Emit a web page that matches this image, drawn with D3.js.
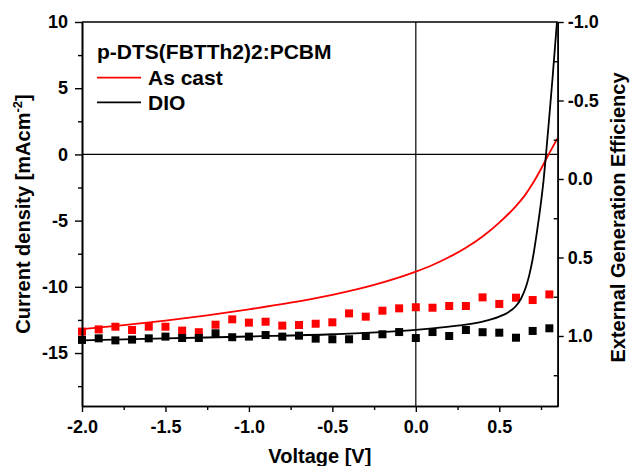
<!DOCTYPE html>
<html><head><meta charset="utf-8">
<script src="https://cdn.jsdelivr.net/npm/d3@7/dist/d3.min.js"></script>
<style>
body{margin:0;background:#fff;}
text{font-family:"Liberation Sans",Arial,Helvetica,sans-serif;font-weight:bold;fill:#000;}
</style></head>
<body><svg id="c" width="632" height="466"></svg>
<script>
// J-V curves
const asCastV = [-2.0,-1.75,-1.5,-1.25,-1.0,-0.75,-0.5,-0.25,0.0,0.1,0.2,0.3,0.4,0.5,0.6,0.65,0.7,0.75,0.8,0.848];
const asCastJ = [-13.2,-12.9,-12.55,-12.15,-11.7,-11.2,-10.6,-9.85,-8.85,-8.35,-7.75,-7.05,-6.2,-5.15,-3.9,-3.15,-2.2,-1.1,0.1,1.2];
const dioV = [-2.0,-1.5,-1.0,-0.5,0.0,0.2,0.3,0.4,0.5,0.55,0.6,0.63,0.66,0.68,0.70,0.725,0.75,0.765,0.78,0.80,0.82,0.848];
const dioJ = [-14.05,-13.9,-13.75,-13.58,-13.25,-13.0,-12.85,-12.62,-12.25,-11.95,-11.45,-10.9,-10.0,-9.1,-7.9,-5.9,-3.6,-2.0,0.0,2.9,5.9,10.4];
// External generation efficiency (right axis)
const egeV = [-2.0,-1.9,-1.8,-1.7,-1.6,-1.5,-1.4,-1.3,-1.2,-1.1,-1.0,-0.9,-0.8,-0.7,-0.6,-0.5,-0.4,-0.3,-0.2,-0.1,0.0,0.1,0.2,0.3,0.4,0.5,0.6,0.7,0.8];
const egeAsCast = [0.972,0.958,0.941,0.962,0.941,0.941,0.966,0.976,0.928,0.894,0.915,0.909,0.934,0.930,0.922,0.913,0.856,0.877,0.839,0.824,0.817,0.820,0.809,0.809,0.754,0.796,0.756,0.771,0.735];
const egeDIO = [1.025,1.015,1.028,1.023,1.015,1.004,1.013,1.013,0.983,1.008,1.004,0.994,1.004,0.998,1.017,1.021,1.021,1.0,0.989,0.975,1.013,0.975,1.0,0.962,0.976,0.979,1.011,0.968,0.951];
// ticks
const xTicks = [-2.0,-1.5,-1.0,-0.5,0.0,0.5];
const xMinor = [-1.75,-1.25,-0.75,-0.25,0.25,0.75];
const yLTicks = [10,5,0,-5,-10,-15];
const yLMinor = [7.5,2.5,-2.5,-7.5,-12.5,-17.5];
const yRTicks = [-1.0,-0.5,0.0,0.5,1.0];
const yRMinor = [-0.75,-0.25,0.25,0.75,1.25];

const L=82,R=557.7,T=22,B=406;
const svg=d3.select("#c");
const x=d3.scaleLinear([-2,0.85],[L,R]);
const yL=d3.scaleLinear([-19,10],[B,T]);
const yR=d3.scaleLinear([-1.0,1.446],[T,B]);

svg.append("defs").append("clipPath").attr("id","clip")
  .append("rect").attr("x",L).attr("y",T).attr("width",R-L).attr("height",B-T);

// zero lines
svg.append("line").attr("x1",L).attr("x2",R).attr("y1",yL(0)).attr("y2",yL(0)).attr("stroke","#000").attr("stroke-width",1.2);
svg.append("line").attr("x1",x(0)).attr("x2",x(0)).attr("y1",T).attr("y2",B).attr("stroke","#000").attr("stroke-width",1.2);

// squares
const sq=8;
function squares(vals,color){
  svg.append("g").selectAll("rect").data(egeV.map((v,i)=>[v,vals[i]])).join("rect")
    .attr("x",d=>x(d[0])-sq/2).attr("y",d=>yR(d[1])-sq/2)
    .attr("width",sq).attr("height",sq).attr("fill",color);
}
squares(egeAsCast,"#ff0000");
squares(egeDIO,"#000");

// curves
const line=d3.line().x(d=>x(d[0])).y(d=>yL(d[1])).curve(d3.curveMonotoneX);
const g=svg.append("g").attr("clip-path","url(#clip)");
g.append("path").attr("d",line(asCastV.map((v,i)=>[v,asCastJ[i]]))).attr("fill","none").attr("stroke","#ff0000").attr("stroke-width",1.8);
g.append("path").attr("d",line(dioV.map((v,i)=>[v,dioJ[i]]))).attr("fill","none").attr("stroke","#000").attr("stroke-width",1.8);

// axes
function styleAxis(sel){
  sel.select(".domain").attr("stroke-width",1.6);
  sel.selectAll(".tick line").attr("stroke-width",1.4);
  sel.selectAll("text").attr("font-size",18).attr("font-family",'"Liberation Sans",Arial,sans-serif').attr("font-weight","bold").attr("fill","#000");
}
const ax=svg.append("g").attr("transform",`translate(0,${B})`)
  .call(d3.axisBottom(x).tickValues(xTicks).tickFormat(v=>v.toFixed(1)).tickSize(6).tickPadding(8).tickSizeOuter(0));
styleAxis(ax);
const axm=svg.append("g").attr("transform",`translate(0,${B})`)
  .call(d3.axisBottom(x).tickValues(xMinor).tickFormat("").tickSize(4).tickSizeOuter(0));
styleAxis(axm);

const ayl=svg.append("g").attr("transform",`translate(${L},0)`)
  .call(d3.axisLeft(yL).tickValues(yLTicks).tickFormat(v=>String(v)).tickSize(7).tickPadding(7).tickSizeOuter(0));
styleAxis(ayl);
const aylm=svg.append("g").attr("transform",`translate(${L},0)`)
  .call(d3.axisLeft(yL).tickValues(yLMinor).tickFormat("").tickSize(4).tickSizeOuter(0));
styleAxis(aylm);

const ayr=svg.append("g").attr("transform",`translate(${R},0)`)
  .call(d3.axisRight(yR).tickValues(yRTicks).tickFormat(v=>v.toFixed(1)).tickSize(6).tickPadding(4).tickSizeOuter(0));
styleAxis(ayr);
const ayrm=svg.append("g").attr("transform",`translate(${R},0)`)
  .call(d3.axisRight(yR).tickValues(yRMinor).tickFormat("").tickSize(-4).tickSizeOuter(0));
styleAxis(ayrm);

// top border
svg.append("line").attr("x1",L).attr("x2",R).attr("y1",T).attr("y2",T).attr("stroke","#000").attr("stroke-width",1.6);

// legend
svg.append("text").attr("x",97).attr("y",59).attr("font-size",21).text("p-DTS(FBTTh2)2:PCBM");
svg.append("line").attr("x1",97).attr("x2",141).attr("y1",77.7).attr("y2",77.7).attr("stroke","#ff0000").attr("stroke-width",1.8);
svg.append("text").attr("x",148).attr("y",85).attr("font-size",21).text("As cast");
svg.append("line").attr("x1",97).attr("x2",141).attr("y1",102.3).attr("y2",102.3).attr("stroke","#000").attr("stroke-width",1.8);
svg.append("text").attr("x",148).attr("y",110).attr("font-size",21).text("DIO");

// axis titles
svg.append("text").attr("x",(L+R)/2).attr("y",463).attr("text-anchor","middle").attr("font-size",20).text("Voltage [V]");
const lt=svg.append("text").attr("transform","translate(30,214) rotate(-90)").attr("text-anchor","middle").attr("font-size",20);
lt.append("tspan").text("Current density [mAcm");
lt.append("tspan").attr("font-size",13).attr("dy",-8).text("-2");
lt.append("tspan").attr("dy",8).text("]");
svg.append("text").attr("transform","translate(625,217.5) rotate(-90)").attr("text-anchor","middle").attr("font-size",20).text("External Generation Efficiency");
</script></body></html>
